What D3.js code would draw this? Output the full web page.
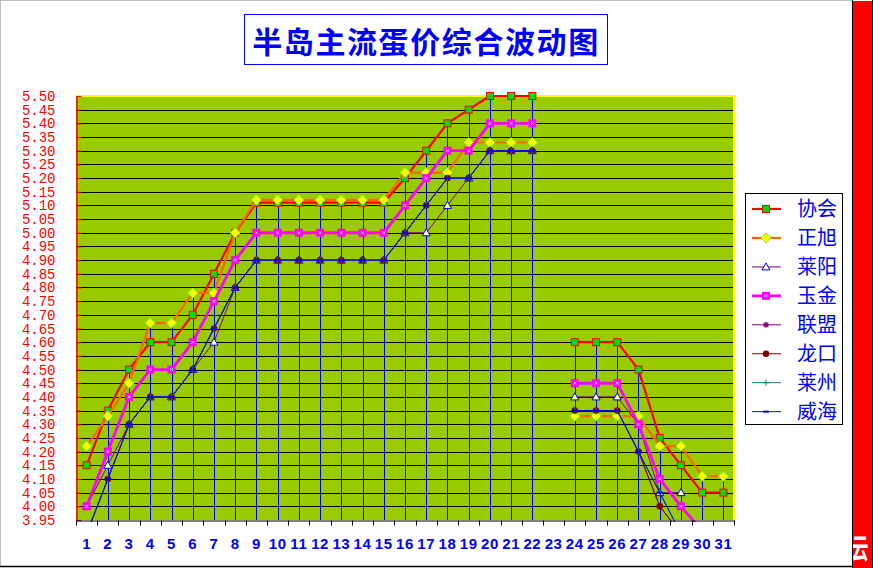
<!DOCTYPE html>
<html>
<head>
<meta charset="utf-8">
<script src="https://cdn.jsdelivr.net/npm/d3@7"></script>
<style>
  body { margin: 0; background: #fff; }
  svg { display: block; }
</style>
</head>
<body>
<svg id="chart"></svg>
<script>
// categories = day of month
const categories = ["1","2","3","4","5","6","7","8","9","10","11","12","13","14","15","16",
  "17","18","19","20","21","22","23","24","25","26","27","28","29","30","31"];

const yTicks = [5.50,5.45,5.40,5.35,5.30,5.25,5.20,5.15,5.10,5.05,5.00,4.95,4.90,4.85,4.80,4.75,
  4.70,4.65,4.60,4.55,4.50,4.45,4.40,4.35,4.30,4.25,4.20,4.15,4.10,4.05,4.00,3.95];

const seriesNames = ["协会","正旭","莱阳","玉金","联盟","龙口","莱州","威海"];

const xiehui   = [4.15,4.35,4.50,4.60,4.60,4.70,4.85,5.00,5.11,5.11,5.11,5.11,5.11,5.11,5.11,5.20,
  5.30,5.40,5.45,5.50,5.50,5.50,null,4.60,4.60,4.60,4.50,4.25,4.15,4.05,4.05];
const zhengxu  = [4.22,4.33,4.45,4.67,4.67,4.78,4.78,5.00,5.12,5.12,5.12,5.12,5.12,5.12,5.12,5.22,
  5.22,5.22,5.33,5.33,5.33,5.33,null,4.33,4.33,4.33,4.33,4.22,4.22,4.11,4.11];
const laiyang  = [4.00,4.15,4.30,4.40,4.40,4.50,4.60,4.80,4.90,4.90,4.90,4.90,4.90,4.90,4.90,5.00,
  5.00,5.10,5.20,5.30,5.30,5.30,null,4.40,4.40,4.40,4.30,4.05,4.05,null,null];
const yujin    = [4.00,4.20,4.40,4.50,4.50,4.60,4.75,4.90,5.00,5.00,5.00,5.00,5.00,5.00,5.00,5.10,
  5.20,5.30,5.30,5.40,5.40,5.40,null,4.45,4.45,4.45,4.30,4.10,4.00,3.91,null];
const lianmeng = [3.90,4.10,4.30,4.40,4.40,4.50,4.65,4.80,4.90,4.90,4.90,4.90,4.90,4.90,4.90,5.00,
  5.10,5.20,5.20,5.30,5.30,5.30,null,4.35,4.35,4.35,4.20,4.00,3.90,null,null];
const longkou  = [3.90,4.10,4.30,4.40,4.40,4.50,4.65,4.80,4.90,4.90,4.90,4.90,4.90,4.90,4.90,5.00,
  5.10,5.20,5.20,5.30,5.30,5.30,null,4.35,4.35,4.35,4.20,4.00,3.90,null,null];
const laizhou  = [3.90,4.10,4.30,4.40,4.40,4.50,4.65,4.80,4.90,4.90,4.90,4.90,4.90,4.90,4.90,5.00,
  5.10,5.20,5.20,5.30,5.30,5.30,null,4.35,4.35,4.35,4.20,4.05,3.90,null,null];
const weihai   = [3.90,4.10,4.30,4.40,4.40,4.50,4.65,4.80,4.90,4.90,4.90,4.90,4.90,4.90,4.90,5.00,
  5.10,5.20,5.20,5.30,5.30,5.30,null,4.35,4.35,4.35,4.20,4.05,3.90,null,null];

const seriesValues = [xiehui, zhengxu, laiyang, yujin, lianmeng, longkou, laizhou, weihai];

// look of each series, Excel style
const styles = [
  {color:"#ff0000", width:2.2, mark:"square",   fill:"#00dd00", stroke:"#ff0000"},
  {color:"#ff6600", width:2.2, mark:"diamond",  fill:"#ffff00", stroke:"#66ff33"},
  {color:"#800080", width:1,   mark:"triangle", fill:"#ffffcc", stroke:"#0000ff"},
  {color:"#ff00ff", width:2.8, mark:"xsquare",  fill:"#ff00ff", stroke:"#99ccff"},
  {color:"#800080", width:1,   mark:"asterisk", fill:"none",    stroke:"#800080"},
  {color:"#800000", width:1,   mark:"circle",   fill:"#800000", stroke:"#800000"},
  {color:"#008080", width:1,   mark:"plus",     fill:"none",    stroke:"#008080"},
  {color:"#0000ff", width:1,   mark:"dash",     fill:"none",    stroke:"#0000ff"}
];

const W = 873, H = 568;
const plot = {left:76, right:734, top:96, bottom:520};

const svg = d3.select("#chart").attr("width", W).attr("height", H);

const x = d3.scaleBand().domain(categories).range([plot.left, plot.right]).padding(0);
const y = d3.scaleLinear().domain([3.95, 5.50]).range([plot.bottom, plot.top]);
const cx = c => x(c) + x.bandwidth() / 2;
const crisp = v => Math.round(v) + 0.5;

svg.append("rect").attr("width", W).attr("height", H).attr("fill", "#fff");

// plot area
svg.append("rect")
  .attr("x", plot.left).attr("y", plot.top)
  .attr("width", plot.right - plot.left).attr("height", plot.bottom - plot.top)
  .attr("fill", "#99cc00");

svg.append("g").selectAll("line")
  .data(yTicks.filter(d => d > 3.96 && d < 5.49))
  .join("line")
  .attr("x1", plot.left).attr("x2", plot.right)
  .attr("y1", d => crisp(y(d))).attr("y2", d => crisp(y(d)))
  .attr("stroke", "#000").attr("stroke-width", 1);

// frame of plot area (under the marks)
svg.append("line").attr("x1", plot.left).attr("x2", plot.right + 1)
  .attr("y1", plot.top).attr("y2", plot.top).attr("stroke", "#ffff00").attr("stroke-width", 2);
svg.append("line").attr("x1", plot.right).attr("x2", plot.right)
  .attr("y1", plot.top).attr("y2", plot.bottom).attr("stroke", "#ffff00").attr("stroke-width", 2);

// drop lines (first day has none in the original)
const dropData = categories.map((c, i) => {
  const vals = seriesValues.map(s => s[i]).filter(v => v != null);
  return {c: c, i: i, max: vals.length ? d3.max(vals) : null};
}).filter(d => d.max != null && d.i > 0);

svg.append("g").selectAll("line")
  .data(dropData)
  .join("line")
  .attr("x1", d => crisp(cx(d.c))).attr("x2", d => crisp(cx(d.c)))
  .attr("y1", d => y(Math.min(d.max, 5.50))).attr("y2", plot.bottom)
  .attr("stroke", "#0000ff").attr("stroke-width", 1);

// clip
svg.append("clipPath").attr("id", "plotclip")
  .append("rect")
  .attr("x", plot.left).attr("y", plot.top - 8)
  .attr("width", plot.right - plot.left + 6).attr("height", plot.bottom - plot.top + 10);

function drawMarker(g, kind, px, py, st) {
  if (kind === "square") {
    g.append("rect").attr("x", px - 3.5).attr("y", py - 3.5).attr("width", 7).attr("height", 7)
      .attr("fill", st.fill).attr("stroke", st.stroke).attr("stroke-width", 1);
  } else if (kind === "diamond") {
    g.append("path").attr("d", `M${px},${py-5}L${px+5},${py}L${px},${py+5}L${px-5},${py}Z`)
      .attr("fill", st.fill).attr("stroke", st.stroke).attr("stroke-width", 1);
  } else if (kind === "xsquare") {
    g.append("rect").attr("x", px - 4).attr("y", py - 4).attr("width", 8).attr("height", 8)
      .attr("fill", st.fill);
    g.append("path").attr("d", `M${px-1.5},${py-1.5}L${px+1.5},${py+1.5}M${px+1.5},${py-1.5}L${px-1.5},${py+1.5}`)
      .attr("stroke", st.stroke).attr("stroke-width", 1);
  } else if (kind === "triangle") {
    g.append("path").attr("d", `M${px},${py-4}L${px+4},${py+3}L${px-4},${py+3}Z`)
      .attr("fill", st.fill).attr("stroke", st.stroke).attr("stroke-width", 1);
  } else if (kind === "asterisk") {
    g.append("path").attr("d", `M${px-3},${py}H${px+3}M${px},${py-3}V${py+3}M${px-2.2},${py-2.2}L${px+2.2},${py+2.2}M${px+2.2},${py-2.2}L${px-2.2},${py+2.2}`)
      .attr("stroke", st.stroke).attr("stroke-width", 1.2);
  } else if (kind === "circle") {
    g.append("circle").attr("cx", px).attr("cy", py).attr("r", 3.3).attr("fill", st.fill);
  } else if (kind === "plus") {
    g.append("path").attr("d", `M${px-3},${py}H${px+3}M${px},${py-3}V${py+3}`)
      .attr("stroke", st.stroke).attr("stroke-width", 1);
  } else if (kind === "dash") {
    g.append("path").attr("d", `M${px-3},${py}H${px+3}`)
      .attr("stroke", st.stroke).attr("stroke-width", 2);
  }
}

const line = d3.line()
  .defined(d => d.v != null)
  .x(d => cx(d.c))
  .y(d => y(d.v));

const seriesG = svg.append("g").attr("clip-path", "url(#plotclip)");
seriesValues.forEach((vals, k) => {
  const st = styles[k];
  const pts = categories.map((c, i) => ({c: c, v: vals[i]}));
  const g = seriesG.append("g");
  g.append("path").datum(pts).attr("d", line)
    .attr("fill", "none").attr("stroke", st.color).attr("stroke-width", st.width)
    .attr("stroke-linejoin", "round");
  pts.filter(d => d.v != null && d.v >= 3.95).forEach(d => drawMarker(g, st.mark, cx(d.c), y(d.v), st));
});

// y axis
const yAxis = d3.axisLeft(y).tickValues(yTicks).tickFormat(d3.format(".2f"))
  .tickSizeInner(-5).tickSizeOuter(0).tickPadding(21);
const yg = svg.append("g").attr("transform", `translate(${plot.left + 0.5},0)`).call(yAxis);
yg.select(".domain").attr("stroke", "#ff0000").attr("stroke-width", 1.5);
yg.selectAll(".tick line").attr("stroke", "#ff0000");
yg.selectAll(".tick text").attr("fill", "#ff0000")
  .attr("font-family", "'Liberation Mono', monospace").attr("font-size", 14);

// x axis
const xAxis = d3.axisBottom(x).tickSize(0).tickPadding(18);
const xg = svg.append("g").attr("transform", `translate(0,${plot.bottom + 0.5})`).call(xAxis);
xg.select(".domain").attr("stroke", "#000").attr("stroke-width", 1);
xg.selectAll(".tick text").attr("fill", "#0000ff")
  .attr("font-family", "'Liberation Sans', Arial, sans-serif").attr("font-weight", "bold")
  .attr("font-size", 15).attr("letter-spacing", 0.6);
xg.append("g").selectAll("line")
  .data(categories)
  .join("line")
  .attr("x1", c => crisp(x(c))).attr("x2", c => crisp(x(c)))
  .attr("y1", 0).attr("y2", 5)
  .attr("stroke", "#000");
xg.append("line").attr("x1", crisp(plot.right)).attr("x2", crisp(plot.right))
  .attr("y1", 0).attr("y2", 5).attr("stroke", "#000");

// legend
const lg = svg.append("g");
lg.append("rect").attr("x", 745.5).attr("y", 193.5).attr("width", 97).attr("height", 231)
  .attr("fill", "#fff").attr("stroke", "#000").attr("stroke-width", 1);
seriesNames.forEach((name, k) => {
  const st = styles[k];
  const ly = 209 + k * 28.95;
  lg.append("line").attr("x1", 752).attr("x2", 781).attr("y1", ly).attr("y2", ly)
    .attr("stroke", st.color).attr("stroke-width", st.width);
  drawMarker(lg, st.mark, 766, ly, st);
  lg.append("text").attr("x", 797).attr("y", ly).attr("dy", "0.36em")
    .attr("fill", "#0000ff").attr("font-family", "'Noto Sans CJK SC', sans-serif")
    .attr("font-size", 20).text(name);
});

// title
svg.append("rect").attr("x", 244.5).attr("y", 14.5).attr("width", 363).attr("height", 50)
  .attr("fill", "#fff").attr("stroke", "#0000ff").attr("stroke-width", 1);
svg.append("text").attr("x", 426).attr("y", 53).attr("text-anchor", "middle")
  .attr("fill", "#0000ff").attr("font-family", "'Noto Sans CJK SC', sans-serif")
  .attr("font-weight", "bold").attr("font-size", 30).attr("letter-spacing", 1.6)
  .text("半岛主流蛋价综合波动图");

// outer frame
svg.append("line").attr("x1", 0).attr("x2", 852).attr("y1", 0.5).attr("y2", 0.5).attr("stroke", "#c0c0c0");
svg.append("line").attr("x1", 0.5).attr("x2", 0.5).attr("y1", 0).attr("y2", 567).attr("stroke", "#c0c0c0");
svg.append("line").attr("x1", 0).attr("x2", 852).attr("y1", 566.5).attr("y2", 566.5).attr("stroke", "#000").attr("stroke-width", 1.5);

// red strip on the right
svg.append("clipPath").attr("id", "stripclip")
  .append("rect").attr("x", 853).attr("y", 1).attr("width", 19).attr("height", 567);
svg.append("rect").attr("x", 853).attr("y", 1).attr("width", 19).attr("height", 567).attr("fill", "#ff0000");
svg.append("line").attr("x1", 852.5).attr("x2", 852.5).attr("y1", 0).attr("y2", H).attr("stroke", "#000");
svg.append("line").attr("x1", 872.5).attr("x2", 872.5).attr("y1", 0).attr("y2", H).attr("stroke", "#000");
svg.append("g").attr("clip-path", "url(#stripclip)")
  .append("text")
  .attr("transform", "translate(860,559) scale(1,1.7)")
  .attr("text-anchor", "middle").attr("fill", "#fff")
  .attr("font-family", "'Noto Sans CJK SC', sans-serif").attr("font-weight", "bold")
  .attr("font-size", 17).text("云");
</script>
</body>
</html>
